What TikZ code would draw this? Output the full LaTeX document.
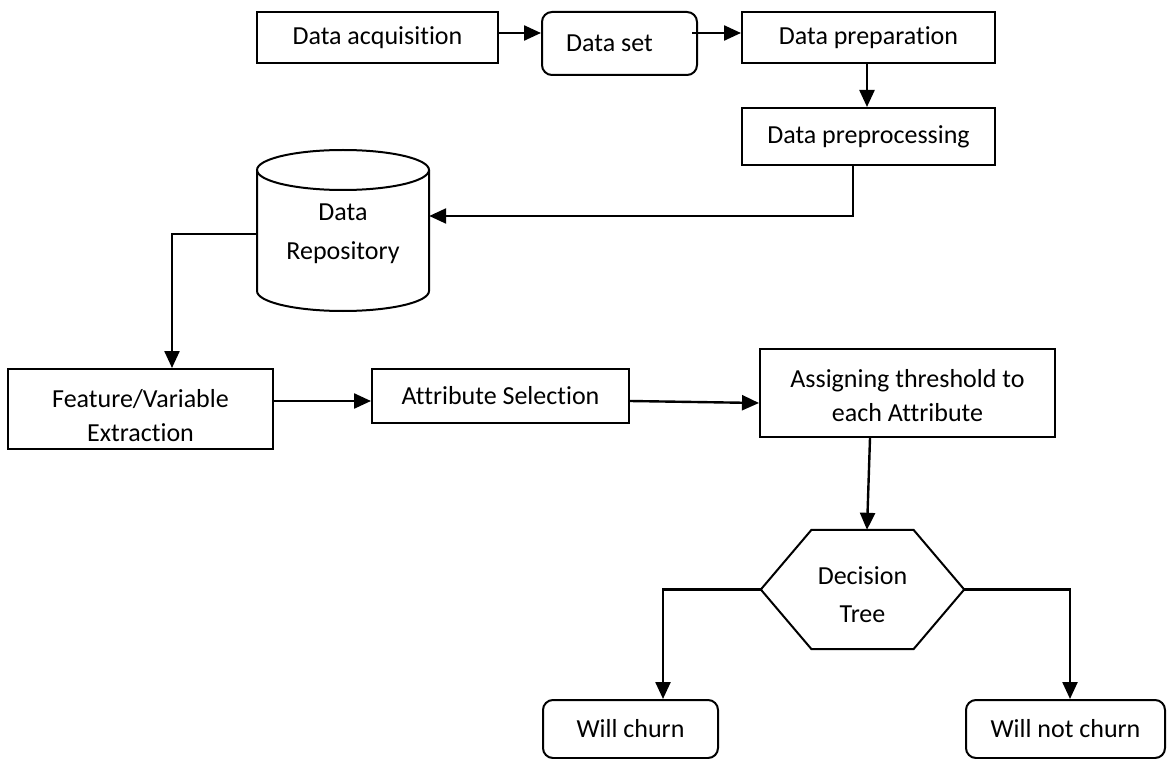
\documentclass[tikz,border=0pt]{standalone}
\usepackage{fontspec}
\setmainfont[Ligatures=NoCommon]{Carlito}
\usetikzlibrary{arrows.meta,calc}
\begin{document}
\begin{tikzpicture}[x=1pt,y=-1pt,
  box/.style={draw,line width=2pt,inner sep=0pt,align=center,font=\fontsize{26}{34}\selectfont},
  rbox/.style={box,rounded corners=10pt},
  plain/.style={inner sep=0pt,align=center,font=\fontsize{26}{38}\selectfont},
  arr/.style={line width=2.4pt,-{Triangle[length=17pt,width=15pt]}},
  shapeline/.style={line width=2pt,line join=miter}]
\useasboundingbox (0,0) rectangle (1167,759);

% top row
\node[box,minimum width=241pt,minimum height=51pt] (acq) at (377.5,37.5) {Data acquisition};
\node[rbox,minimum width=155pt,minimum height=63pt] (dset) at (619.5,43.5) {Data set\hspace*{20pt}};
\node[box,minimum width=253pt,minimum height=51pt] (prep) at (868.5,37.5) {Data preparation};
\node[box,minimum width=253pt,minimum height=57pt] (preproc) at (868.5,136.5) {Data preprocessing};

% repository (cylinder)
\node[plain,font=\fontsize{26}{39}\selectfont,minimum width=172pt,minimum height=161pt] (repo) at (343,230.5) {\rule{0pt}{24pt}Data\\Repository};
\draw[shapeline] (257,170) -- (257,291) arc[start angle=180,end angle=0,x radius=86,y radius=20] -- (429,170);
\draw[shapeline] (343,170) ellipse[x radius=86,y radius=20];

% middle row
\node[box,minimum width=265pt,minimum height=80pt] (feat) at (140.5,409) {\rule{0pt}{32pt}Feature/Variable\\Extraction};
\node[box,minimum width=257pt,minimum height=54pt] (attr) at (500.5,396) {Attribute Selection};
\node[box,minimum width=295pt,minimum height=88pt] (assign) at (907.5,393) {\rule{0pt}{23pt}Assigning threshold to\\each Attribute};

% decision hexagon
\node[plain,minimum width=203pt,minimum height=119pt] (dec) at (862.5,589.5) {\rule{0pt}{28pt}Decision\\Tree};
\draw[shapeline] (dec.west) -- ([xshift=-51pt]dec.north) -- ([xshift=51pt]dec.north) -- (dec.east)
  -- ([xshift=51pt]dec.south) -- ([xshift=-51pt]dec.south) -- cycle;

% outcomes
\node[rbox,minimum width=175pt,minimum height=58pt] (churn) at (630.5,729) {Will churn};
\node[rbox,minimum width=199pt,minimum height=58pt] (notchurn) at (1065.5,729) {Will not churn};

% connectors
\draw[arr] ([yshift=4.5pt]acq.east) -- ([yshift=4.5pt]acq.east -| dset.west);
\draw[arr] ([xshift=-6pt,yshift=10.5pt]dset.east) -- ([yshift=10.5pt]dset.east -| prep.west);
\draw[arr] ([xshift=-1.5pt]prep.south) -- ([xshift=-1.5pt]preproc.north);
\draw[arr] ([xshift=-15.5pt]preproc.south) |- ([yshift=14.5pt]repo.east);
\draw[arr] ([yshift=-3.5pt]repo.west) -| ([xshift=31.5pt]feat.north);
\draw[arr] ([yshift=8pt]feat.east) -- ([yshift=-5pt]attr.west);
\draw[arr] ([yshift=-5pt]attr.east) -- ([yshift=-10pt]assign.west);
\draw[arr] ([xshift=-37.5pt]assign.south) -- ([xshift=4.5pt]dec.north);
\draw[arr] (dec.west) -| ([xshift=32.5pt]churn.north);
\draw[arr] (dec.east) -| ([xshift=4.5pt]notchurn.north);
\end{tikzpicture}
\end{document}
